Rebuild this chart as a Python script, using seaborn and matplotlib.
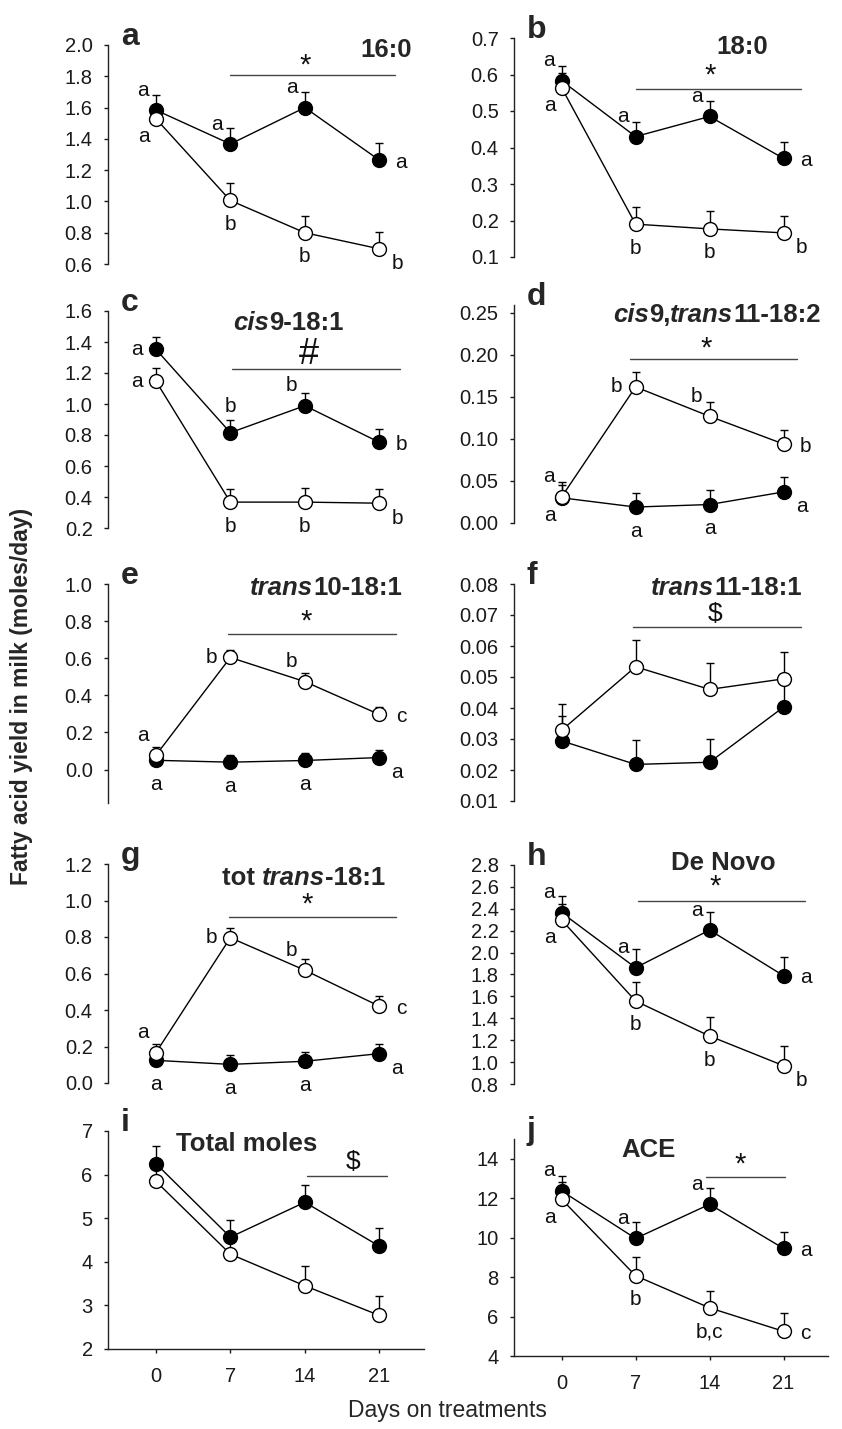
import numpy as np
import matplotlib
matplotlib.use("Agg")
import matplotlib.pyplot as plt
import seaborn as sns

# ---------------- data ----------------
days = [0, 7, 14, 21]

a_filled = [1.584, 1.367, 1.600, 1.264]; a_filled_se = [0.096, 0.103, 0.100, 0.111]
a_open = [1.529, 1.006, 0.800, 0.697];   a_open_se = [0.090, 0.109, 0.106, 0.109]
b_filled = [0.583, 0.430, 0.485, 0.370]; b_filled_se = [0.039, 0.041, 0.043, 0.046]
b_open = [0.564, 0.190, 0.177, 0.166];   b_open_se = [0.040, 0.046, 0.048, 0.046]
c_filled = [1.353, 0.815, 0.989, 0.753]; c_filled_se = [0.080, 0.082, 0.079, 0.088]
c_open = [1.148, 0.367, 0.367, 0.360];   c_open_se = [0.085, 0.083, 0.088, 0.090]
d_filled = [0.030, 0.019, 0.022, 0.037]; d_filled_se = [0.015, 0.017, 0.017, 0.018]
d_open = [0.031, 0.162, 0.127, 0.094];   d_open_se = [0.018, 0.018, 0.017, 0.017]
e_filled = [0.050, 0.040, 0.049, 0.065]; e_filled_se = [0.030, 0.040, 0.041, 0.043]
e_open = [0.077, 0.604, 0.474, 0.297];   e_open_se = [0.043, 0.041, 0.045, 0.042]
f_filled = [0.0294, 0.0218, 0.0225, 0.0403]; f_filled_se = [0.0081, 0.0078, 0.0076, 0.0080]
f_open = [0.0328, 0.0533, 0.0460, 0.0494];   f_open_se = [0.0084, 0.0086, 0.0086, 0.0087]
g_filled = [0.124, 0.102, 0.119, 0.161]; g_filled_se = [0.040, 0.054, 0.051, 0.055]
g_open = [0.166, 0.796, 0.618, 0.421];   g_open_se = [0.050, 0.051, 0.059, 0.055]
h_filled = [2.365, 1.862, 2.206, 1.789]; h_filled_se = [0.152, 0.168, 0.162, 0.174]
h_open = [2.298, 1.558, 1.238, 0.967];   h_open_se = [0.150, 0.177, 0.177, 0.183]
i_filled = [6.252, 4.565, 5.366, 4.359]; i_filled_se = [0.397, 0.404, 0.390, 0.427]
i_open = [5.847, 4.176, 3.450, 2.771];   i_open_se = [0.380, 0.380, 0.443, 0.435]
j_filled = [12.367, 9.96, 11.69, 9.45];  j_filled_se = [0.75, 0.81, 0.85, 0.86]
j_open = [11.95, 8.07, 6.44, 5.25];      j_open_se = [0.85, 0.93, 0.88, 0.92]

# significance letters
a_filled_let = ['a', 'a', 'a', 'a']; a_open_let = ['a', 'b', 'b', 'b']
b_filled_let = ['a', 'a', 'a', 'a']; b_open_let = ['a', 'b', 'b', 'b']
c_filled_let = ['a', 'b', 'b', 'b']; c_open_let = ['a', 'b', 'b', 'b']
d_filled_let = ['a', 'a', 'a', 'a']; d_open_let = ['a', 'b', 'b', 'b']
e_filled_let = ['a', 'a', 'a', 'a']; e_open_let = ['a', 'b', 'b', 'c']
g_filled_let = ['a', 'a', 'a', 'a']; g_open_let = ['a', 'b', 'b', 'c']
h_filled_let = ['a', 'a', 'a', 'a']; h_open_let = ['a', 'b', 'b', 'b']
j_filled_let = ['a', 'a', 'a', 'a']; j_open_let = ['a', 'b', 'b,c', 'c']

# titles (pieces: text, italic?)
titles = {
    'a': [('16:0', False)],
    'b': [('18:0', False)],
    'c': [('cis', True), ('9-18:1', False)],
    'd': [('cis', True), ('9,', False), ('trans', True), ('11-18:2', False)],
    'e': [('trans', True), ('10-18:1', False)],
    'f': [('trans', True), ('11-18:1', False)],
    'g': [('tot ', False), ('trans', True), ('-18:1', False)],
    'h': [('De Novo', False)],
    'i': [('Total moles', False)],
    'j': [('ACE', False)],
}
sig_symbols = {'a': '*', 'b': '*', 'c': '#', 'd': '*', 'e': '*',
               'f': '$', 'g': '*', 'h': '*', 'i': '$', 'j': '*'}
x_ticks = [0, 7, 14, 21]
x_label = 'Days on treatments'
y_label = 'Fatty acid yield in milk (moles/day)'

# ---------------- style / layout ----------------
sns.set_style('ticks')
plt.rcParams['font.family'] = ['Liberation Sans', 'DejaVu Sans']
W, H = 842, 1429
fig = plt.figure(figsize=(W / 100, H / 100), dpi=100)

# pixel boxes: (left, right), top, bottom
LC = (108, 424)
RC = (514, 828)
panels = {
    'a': dict(box=(LC, 45, 264), ylim=(0.6, 2.0), yt=np.arange(0.6, 2.01, 0.2), fmt='{:.1f}',
              data=(a_filled, a_filled_se, a_open, a_open_se),
              lets=(a_filled_let, ['ul', 'ul', 'ul', 'r'], a_open_let, ['ll', 'b', 'b', 'lr']),
              sig=(7, 22.5, 1.806, 14, 1.87), title=(0.80, 0.945)),
    'b': dict(box=(RC, 38, 257), ylim=(0.1, 0.7), yt=np.arange(0.1, 0.71, 0.1), fmt='{:.1f}',
              data=(b_filled, b_filled_se, b_open, b_open_se),
              lets=(b_filled_let, ['ul', 'ul', 'ul', 'r'], b_open_let, ['ll', 'b', 'b', 'lr']),
              sig=(7, 22.6, 0.561, 14.1, 0.597), title=(0.646, 0.927)),
    'c': dict(box=(LC, 311, 528), ylim=(0.2, 1.6), yt=np.arange(0.2, 1.61, 0.2), fmt='{:.1f}',
              data=(c_filled, c_filled_se, c_open, c_open_se),
              lets=(c_filled_let, ['l', 'a', 'ul', 'r'], c_open_let, ['l', 'b', 'b', 'lr']),
              sig=(7.2, 22.9, 1.229, 14.4, 1.32), title=(0.396, 0.912)),
    'd': dict(box=(RC, 304.6, 523), ylim=(0.0, 0.26), yt=np.arange(0.0, 0.251, 0.05), fmt='{:.2f}',
              data=(d_filled, d_filled_se, d_open, d_open_se),
              lets=(d_filled_let, ['ll', 'b', 'b', 'lr'], d_open_let, ['ul', 'l', 'ul', 'r']),
              sig=(6.5, 22.3, 0.195, 13.7, 0.208), title=(0.315, 0.920)),
    'e': dict(box=(LC, 584, 803), ylim=(-0.18, 1.0), yt=np.arange(0.0, 1.01, 0.2), fmt='{:.1f}',
              data=(e_filled, e_filled_se, e_open, e_open_se),
              lets=(e_filled_let, ['b', 'b', 'b', 'lr'], e_open_let, ['ul', 'l', 'ul', 'r']),
              sig=(6.8, 22.6, 0.732, 14.1, 0.795), title=(0.449, 0.95)),
    'f': dict(box=(RC, 584, 801), ylim=(0.01, 0.08), yt=np.arange(0.01, 0.0801, 0.01), fmt='{:.2f}',
              data=(f_filled, f_filled_se, f_open, f_open_se),
              lets=None,
              sig=(6.8, 22.6, 0.0662, 14.5, 0.0703), title=(0.436, 0.949)),
    'g': dict(box=(LC, 864, 1083), ylim=(0.0, 1.2), yt=np.arange(0.0, 1.21, 0.2), fmt='{:.1f}',
              data=(g_filled, g_filled_se, g_open, g_open_se),
              lets=(g_filled_let, ['b', 'b', 'b', 'lr'], g_open_let, ['ul', 'l', 'ul', 'r']),
              sig=(6.9, 22.6, 0.909, 14.2, 0.98), title=(0.36, 0.904)),
    'h': dict(box=(RC, 865, 1084), ylim=(0.8, 2.8), yt=np.arange(0.8, 2.81, 0.2), fmt='{:.1f}',
              data=(h_filled, h_filled_se, h_open, h_open_se),
              lets=(h_filled_let, ['ul', 'ul', 'ul', 'r'], h_open_let, ['ll', 'b', 'b', 'lr']),
              sig=(7.2, 23.0, 2.471, 14.5, 2.6), title=(0.50, 0.977)),
    'i': dict(box=(LC, 1131, 1349), ylim=(2, 7), yt=np.arange(2, 7.01, 1), fmt='{:.0f}',
              data=(i_filled, i_filled_se, i_open, i_open_se),
              lets=None,
              sig=(14.2, 21.7, 5.97, 18.5, 6.29), title=(0.215, 0.908)),
    'j': dict(box=(RC, 1139, 1356), ylim=(4, 15), yt=np.arange(4, 14.01, 2), fmt='{:.0f}',
              data=(j_filled, j_filled_se, j_open, j_open_se),
              lets=(j_filled_let, ['ul', 'ul', 'ul', 'r'], j_open_let, ['ll', 'b', 'b', 'r']),
              sig=(13.7, 21.1, 13.09, 16.9, 13.7), title=(0.341, 0.917)),
}
offs = {'ul': (-13, 20), 'll': (-12, -18), 'a': (0, 26), 'b': (0, -24),
        'l': (-19, 0), 'r': (22, -2), 'lr': (18, -15)}

XLIM = (-4.5, 25.2)
TICK_FS = 14.5
LET_FS = 15
TITLE_FS = 18.5
MS = 10

for key, p in panels.items():
    (x0, x1), top, bot = p['box']
    ax = fig.add_axes([x0 / W, 1 - bot / H, (x1 - x0) / W, (bot - top) / H])
    ax.set_facecolor('none')
    filled, filled_se, opn, opn_se = p['data']

    ax.errorbar(days, filled, yerr=[np.zeros(4), filled_se], fmt='none', ecolor='black',
                elinewidth=1, capsize=3, capthick=1, zorder=2)
    ax.errorbar(days, opn, yerr=[np.zeros(4), opn_se], fmt='none', ecolor='black',
                elinewidth=1, capsize=3, capthick=1, zorder=2)
    sns.lineplot(x=days, y=filled, ax=ax, color='black', linewidth=1, marker='o',
                 markersize=MS, markerfacecolor='black', markeredgecolor='black',
                 markeredgewidth=1, zorder=3)
    sns.lineplot(x=days, y=opn, ax=ax, color='black', linewidth=1, marker='o',
                 markersize=MS, markerfacecolor='white', markeredgecolor='black',
                 markeredgewidth=1, zorder=4)

    ax.set_xlim(*XLIM)
    ax.set_ylim(*p['ylim'])
    ax.set_yticks(p['yt'])
    ax.set_yticklabels([p['fmt'].format(v) for v in p['yt']])
    for s in ['top', 'right']:
        ax.spines[s].set_visible(False)
    ax.spines['left'].set_linewidth(1)
    ax.spines['left'].set_color('#222222')
    ax.tick_params(axis='y', direction='out', length=3, width=1, labelsize=TICK_FS,
                   colors='#1a1a1a', pad=8)
    if key in ('i', 'j'):
        ax.spines['bottom'].set_linewidth(1)
        ax.spines['bottom'].set_color('#222222')
        ax.set_xticks(x_ticks)
        ax.set_xticklabels([str(t) for t in x_ticks])
        ax.tick_params(axis='x', direction='out', length=3, width=1, labelsize=TICK_FS,
                       colors='#1a1a1a', pad=10)
    else:
        ax.spines['bottom'].set_visible(False)
        ax.set_xticks([])
    ax.set_xlabel('')
    ax.set_ylabel('')

    # letters
    if p['lets'] is not None:
        fl, fpos, ol, opos = p['lets']
        for k in range(4):
            dx, dy = offs[fpos[k]]
            ax.annotate(fl[k], xy=(days[k], filled[k]), xytext=(dx, dy),
                        textcoords='offset pixels', ha='center', va='center',
                        fontsize=LET_FS, color='#111111')
            dx, dy = offs[opos[k]]
            ax.annotate(ol[k], xy=(days[k], opn[k]), xytext=(dx, dy),
                        textcoords='offset pixels', ha='center', va='center',
                        fontsize=LET_FS, color='#111111')

    # significance bar
    sx0, sx1, sy, tx, ty = p['sig']
    ax.plot([sx0, sx1], [sy, sy], color='#444444', linewidth=1, clip_on=False)
    sym = sig_symbols[key]
    ax.text(tx, ty, sym, ha='center', va='center',
            fontsize=21 if sym == '*' else (26 if sym == '#' else 19), color='#111111')

    # title (pieces chained left to right)
    tx0, ty0 = p['title']
    prev = None
    for txt, ital in titles[key]:
        style = 'italic' if ital else 'normal'
        if prev is None:
            prev = ax.text(tx0, ty0, txt, transform=ax.transAxes, ha='left', va='baseline',
                           fontsize=TITLE_FS, fontweight='bold', fontstyle=style)
        else:
            prev = ax.annotate(txt, xy=(1, 0), xycoords=prev, ha='left', va='bottom',
                               fontsize=TITLE_FS, fontweight='bold', fontstyle=style)

    # panel letter
    ax.text(0.04, 1.0, key, transform=ax.transAxes, ha='left', va='baseline',
            fontsize=23, fontweight='bold')

fig.text(22 / W, 1 - 696 / H, y_label, rotation=90, ha='center', va='center',
         fontsize=16.5, fontweight='bold')
fig.text(447 / W, 1 - 1410 / H, x_label, ha='center', va='center', fontsize=16.5)

fig.savefig('out.png', dpi=100)
